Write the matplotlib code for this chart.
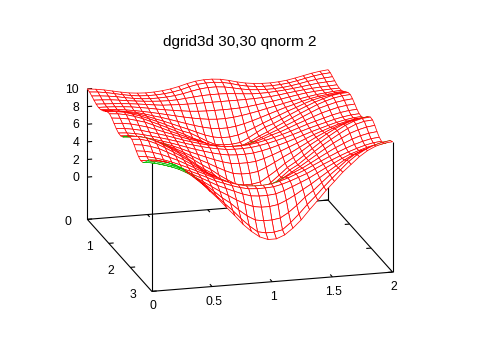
import numpy as np
import matplotlib
matplotlib.use('Agg')
import matplotlib.pyplot as plt
from mpl_toolkits.mplot3d import proj3d

plt.rcParams['font.family'] = ['Liberation Sans', 'DejaVu Sans']

title = 'dgrid3d 30,30 qnorm 2'
x_ticks = [0, 0.5, 1, 1.5, 2]
x_labels = ['0', '0.5', '1', '1.5', '2']
y_ticks = [0, 1, 2, 3]
y_labels = ['0', '1', '2', '3']
z_ticks = [0, 2, 4, 6, 8, 10]
z_labels = ['0', '2', '4', '6', '8', '10']
x_grid = np.linspace(0, 2, 30)
y_grid = np.linspace(0, 3, 30)

# valores, uma linha para cada y (0 -> 3)
z_rows = [
    [10.0,9.9,9.75,9.55,9.35,9.18,9.08,9.03,9.05,9.12,9.25,9.45,9.7,9.9,9.99,9.99,9.9,9.7,9.45,9.25,9.12,9.05,9.03,9.08,9.18,9.35,9.55,9.75,9.9,10.0],
    [9.94,9.86,9.72,9.53,9.33,9.16,9.05,9.0,9.0,9.06,9.17,9.36,9.62,9.82,9.91,9.91,9.82,9.62,9.36,9.17,9.06,9.0,9.0,9.05,9.16,9.33,9.53,9.72,9.86,9.94],
    [9.77,9.7,9.6,9.46,9.28,9.12,9.0,8.94,8.93,8.97,9.05,9.2,9.4,9.58,9.67,9.67,9.58,9.4,9.2,9.05,8.97,8.93,8.94,9.0,9.12,9.28,9.46,9.6,9.7,9.77],
    [9.58,9.53,9.47,9.35,9.22,9.1,9.0,8.92,8.86,8.84,8.86,8.94,9.03,9.11,9.14,9.14,9.11,9.03,8.94,8.86,8.84,8.86,8.92,9.0,9.1,9.22,9.35,9.47,9.53,9.58],
    [9.41,9.36,9.31,9.24,9.15,9.04,8.92,8.79,8.68,8.64,8.6,8.58,8.57,8.57,8.57,8.57,8.57,8.57,8.58,8.6,8.64,8.68,8.79,8.92,9.04,9.15,9.24,9.31,9.36,9.41],
    [9.32,9.29,9.24,9.17,9.07,8.93,8.77,8.6,8.44,8.3,8.17,8.05,7.97,7.93,7.92,7.92,7.93,7.97,8.05,8.17,8.3,8.44,8.6,8.77,8.93,9.07,9.17,9.24,9.29,9.32],
    [9.35,9.29,9.2,9.09,8.94,8.77,8.58,8.38,8.17,7.96,7.75,7.56,7.4,7.27,7.2,7.2,7.27,7.4,7.56,7.75,7.96,8.17,8.38,8.58,8.77,8.94,9.09,9.2,9.29,9.35],
    [9.51,9.43,9.31,9.18,9.0,8.76,8.48,8.22,7.92,7.61,7.3,7.0,6.74,6.53,6.42,6.42,6.53,6.74,7.0,7.3,7.61,7.92,8.22,8.48,8.76,9.0,9.18,9.31,9.43,9.51],
    [9.75,9.64,9.5,9.33,9.11,8.79,8.42,8.08,7.7,7.31,6.93,6.52,6.13,5.82,5.67,5.67,5.82,6.13,6.52,6.93,7.31,7.7,8.08,8.42,8.79,9.11,9.33,9.5,9.64,9.75],
    [9.95,9.9,9.75,9.46,9.16,8.78,8.39,7.97,7.53,7.09,6.76,6.24,5.71,5.25,5.14,5.14,5.25,5.71,6.24,6.76,7.09,7.53,7.97,8.39,8.78,9.16,9.46,9.75,9.9,9.95],
    [10.0,9.92,9.75,9.48,9.15,8.73,8.32,7.88,7.43,6.99,6.5,6.1,5.6,5.2,5.04,5.04,5.2,5.6,6.1,6.5,6.99,7.43,7.88,8.32,8.73,9.15,9.48,9.75,9.92,10.0],
    [9.8,9.7,9.55,9.3,9.03,8.63,8.21,7.78,7.38,6.97,6.6,6.22,5.8,5.47,5.36,5.36,5.47,5.8,6.22,6.6,6.97,7.38,7.78,8.21,8.63,9.03,9.3,9.55,9.7,9.8],
    [9.48,9.41,9.26,9.02,8.76,8.42,8.06,7.72,7.35,7.0,6.72,6.39,6.1,5.87,5.8,5.8,5.87,6.1,6.39,6.72,7.0,7.35,7.72,8.06,8.42,8.76,9.02,9.26,9.41,9.48],
    [9.17,9.1,8.95,8.74,8.47,8.2,7.92,7.6,7.28,6.99,6.72,6.48,6.28,6.13,6.07,6.07,6.13,6.28,6.48,6.72,6.99,7.28,7.6,7.92,8.2,8.47,8.74,8.95,9.1,9.17],
    [8.95,8.88,8.73,8.53,8.28,8.03,7.77,7.48,7.18,6.9,6.65,6.42,6.24,6.1,6.05,6.05,6.1,6.24,6.42,6.65,6.9,7.18,7.48,7.77,8.03,8.28,8.53,8.73,8.88,8.95],
    [8.91,8.84,8.68,8.47,8.21,7.93,7.65,7.33,7.0,6.69,6.41,6.14,5.92,5.75,5.69,5.69,5.75,5.92,6.14,6.41,6.69,7.0,7.33,7.65,7.93,8.21,8.47,8.68,8.84,8.91],
    [9.07,9.0,8.81,8.57,8.26,7.93,7.59,7.2,6.79,6.4,6.02,5.65,5.33,5.08,5.0,5.0,5.08,5.33,5.65,6.02,6.4,6.79,7.2,7.59,7.93,8.26,8.57,8.81,9.0,9.07],
    [9.38,9.28,9.08,8.8,8.44,8.03,7.58,7.08,6.58,6.07,5.6,5.1,4.62,4.22,4.08,4.08,4.22,4.62,5.1,5.6,6.07,6.58,7.08,7.58,8.03,8.44,8.8,9.08,9.28,9.38],
    [9.75,9.62,9.4,9.09,8.66,8.15,7.58,7.05,6.42,5.78,5.2,4.5,3.88,3.3,3.13,3.13,3.3,3.88,4.5,5.2,5.78,6.42,7.05,7.58,8.15,8.66,9.09,9.4,9.62,9.75],
    [9.98,9.9,9.65,9.27,8.74,8.18,7.58,6.92,6.22,5.56,5.0,4.2,3.44,2.75,2.57,2.57,2.75,3.44,4.2,5.0,5.56,6.22,6.92,7.58,8.18,8.74,9.27,9.65,9.9,9.98],
    [9.93,9.85,9.6,9.18,8.66,8.1,7.52,6.88,6.2,5.51,5.0,4.25,3.5,2.85,2.7,2.7,2.85,3.5,4.25,5.0,5.51,6.2,6.88,7.52,8.1,8.66,9.18,9.6,9.85,9.93],
    [9.6,9.48,9.24,8.92,8.44,7.95,7.39,6.8,6.2,5.6,5.05,4.48,3.92,3.47,3.33,3.33,3.47,3.92,4.48,5.05,5.6,6.2,6.8,7.39,7.95,8.44,8.92,9.24,9.48,9.6],
    [9.17,9.06,8.85,8.54,8.14,7.72,7.23,6.72,6.2,5.7,5.3,4.85,4.42,4.1,4.02,4.02,4.1,4.42,4.85,5.3,5.7,6.2,6.72,7.23,7.72,8.14,8.54,8.85,9.06,9.17],
    [8.82,8.72,8.5,8.22,7.88,7.5,7.08,6.64,6.2,5.75,5.38,5.02,4.72,4.5,4.42,4.42,4.5,4.72,5.02,5.38,5.75,6.2,6.64,7.08,7.5,7.88,8.22,8.5,8.72,8.82],
    [8.64,8.54,8.33,8.05,7.73,7.36,6.96,6.55,6.11,5.65,5.3,4.95,4.66,4.45,4.39,4.39,4.45,4.66,4.95,5.3,5.65,6.11,6.55,6.96,7.36,7.73,8.05,8.33,8.54,8.64],
    [8.71,8.61,8.38,8.09,7.77,7.36,6.89,6.42,5.92,5.41,5.0,4.6,4.22,3.93,3.83,3.83,3.93,4.22,4.6,5.0,5.41,5.92,6.42,6.89,7.36,7.77,8.09,8.38,8.61,8.71],
    [9.01,8.86,8.62,8.32,7.95,7.45,6.87,6.27,5.65,5.03,4.48,3.9,3.4,3.0,2.85,2.85,3.0,3.4,3.9,4.48,5.03,5.65,6.27,6.87,7.45,7.95,8.32,8.62,8.86,9.01],
    [9.45,9.3,9.02,8.69,8.3,7.7,6.92,6.2,5.4,4.58,3.9,3.05,2.3,1.75,1.6,1.6,1.75,2.3,3.05,3.9,4.58,5.4,6.2,6.92,7.7,8.3,8.69,9.02,9.3,9.45],
    [9.85,9.72,9.45,9.06,8.55,7.85,6.98,6.1,5.2,4.23,3.35,2.35,1.45,0.7,0.5,0.5,0.7,1.45,2.35,3.35,4.23,5.2,6.1,6.98,7.85,8.55,9.06,9.45,9.72,9.85],
    [10.0,9.91,9.66,9.23,8.6,7.8,7.0,6.03,5.1,4.04,3.04,1.97,1.1,0.4,0.03,0.03,0.4,1.1,1.97,3.04,4.04,5.1,6.03,7.0,7.8,8.6,9.23,9.66,9.91,10.0],
]

zbase = -4.8

fig = plt.figure(figsize=(4.8, 3.6), dpi=100)
ax = fig.add_axes([51.5/480, -9/360, 367/480, 367/360], projection='3d')
ax.set_proj_type('ortho')
ax.view_init(elev=17.4, azim=-105)
ax.set_box_aspect((1, 1, 0.548))
ax.set_xlim(0, 2)
ax.set_ylim(3, 0)
ax.set_zlim(zbase, 10)
ax.set_axis_off()
ax.patch.set_alpha(0)
ax.computed_zorder = False

# caixa da base e eixos verticais
def linha(xs, ys, zs, lw=0.8):
    ax.plot(xs, ys, zs, color='black', lw=lw, zorder=1, solid_capstyle='butt')

linha([0, 2, 2, 0, 0], [0, 0, 3, 3, 0], [zbase]*5)
for cx, cy in [(0, 0), (0, 3), (2, 0), (2, 3)]:
    linha([cx, cx], [cy, cy], [zbase, 10])

for t in x_ticks[1:-1]:
    linha([t, t], [3, 2.9], [zbase, zbase])
    linha([t, t], [0, 0.1], [zbase, zbase])
for t in y_ticks:
    linha([0, 0.04], [t, t], [zbase, zbase])
    linha([2, 1.96], [t, t], [zbase, zbase])
for t in z_ticks:
    linha([0, 0.04], [0, 0], [t, t])

X, Y = np.meshgrid(x_grid, y_grid)
Z = np.array(z_rows)
surf = ax.plot_surface(X, Y, Z, rstride=1, cstride=1, color='white', shade=False,
                       edgecolor='red', linewidth=0.55, antialiased=True, zorder=2)

# parte de baixo da superficie em verde
px, py, _ = proj3d.proj_transform(X.ravel(), Y.ravel(), Z.ravel(), ax.get_proj())
px = px.reshape(X.shape)
py = py.reshape(X.shape)
cores = []
for j in range(29):
    for i in range(29):
        a = (px[j, i+1]-px[j, i])*(py[j+1, i]-py[j, i])-(px[j+1, i]-px[j, i])*(py[j, i+1]-py[j, i])
        cores.append(a)
cores = np.array(cores)
sinal = np.sign(np.median(cores))
surf.set_edgecolor(['red' if c*sinal > 0 else '#00c000' for c in cores])

def texto(x, y, s, size=8.7, ha='center'):
    fig.text(x/480, 1-(y+2)/360, s, fontsize=size, ha=ha, va='center', color='black')

texto(240, 40, title, size=11)
for y, s in zip([176, 158.5, 141, 123.5, 106, 88], z_labels):
    texto(79, y, s, ha='right')
for (x, y), s in zip([(68, 220), (89, 245), (111, 269), (133, 293)], y_labels):
    texto(x, y, s)
for (x, y), s in zip([(153, 304), (214, 300), (273, 295), (334, 290), (394, 285)], x_labels):
    texto(x, y, s)

fig.savefig('out.png', dpi=100)
